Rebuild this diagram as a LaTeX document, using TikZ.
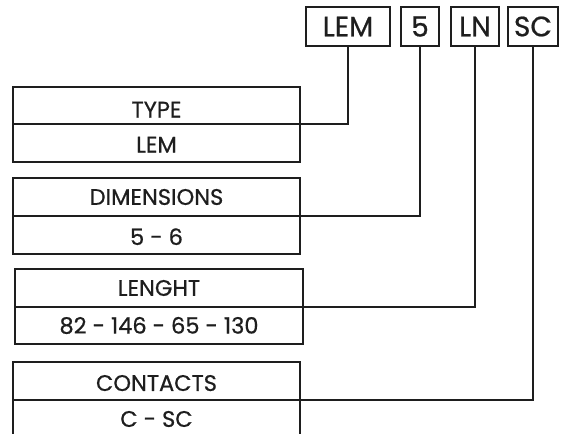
\documentclass[tikz,border=0pt]{standalone}
\usepackage{fontspec}
\setmainfont{Poppins}[FakeBold=0.7]
\definecolor{ink}{HTML}{1E1E1E}
\begin{document}
\begin{tikzpicture}[x=1pt,y=-1pt,
  cell/.style={draw=ink, line width=1.3pt, rectangle, inner sep=0pt, outer sep=0pt,
    anchor=north west, text=ink, font=\fontsize{22.5}{22.5}\selectfont},
  code/.style={draw=ink, line width=1.3pt, rectangle, inner sep=0pt, outer sep=0pt,
    anchor=north west, text=ink, minimum height=39pt, font=\fontsize{28}{28}\selectfont},
  lowtext/.style={text height=#1},
  link/.style={draw=ink, line width=1.3pt}]
\useasboundingbox (0,0) rectangle (563,434);
\clip (0,0) rectangle (563,434);
% code boxes
\node[code, minimum width=84pt] (lem) at (306,7) {LEM};
\node[code, minimum width=38pt] (five) at (401,7) {5};
\node[code, minimum width=48pt] (ln) at (451,7) {LN};
\node[code, minimum width=50pt] (sc) at (508,7) {SC};
% TYPE
\node[cell, lowtext=24pt, minimum width=287pt, minimum height=37pt] (typeh) at (13,87) {TYPE};
\node[cell, lowtext=19pt, minimum width=287pt, minimum height=38pt] (typev) at (13,124) {LEM};
% DIMENSIONS
\node[cell, minimum width=287pt, minimum height=38pt] (dimh) at (13,178) {DIMENSIONS};
\node[cell, lowtext=20pt, minimum width=287pt, minimum height=38pt] (dimv) at (13,216) {5 - 6};
% LENGHT
\node[cell, minimum width=288pt, minimum height=38pt] (lenh) at (15,269) {LENGHT};
\node[cell, minimum width=288pt, minimum height=37pt] (lenv) at (15,307) {82 - 146 - 65 - 130};
% CONTACTS
\node[cell, lowtext=20pt, minimum width=287pt, minimum height=38pt] (conh) at (13,362) {CONTACTS};
\node[cell, minimum width=287pt, minimum height=38pt] (conv) at (13,400) {C - SC};
% connectors
\draw[link] (lem.south) |- (typeh.south east);
\draw[link] (five.south) |- (dimh.south east);
\draw[link] (ln.south) |- (lenh.south east);
\draw[link] (sc.south) |- (conh.south east);
\end{tikzpicture}
\end{document}
